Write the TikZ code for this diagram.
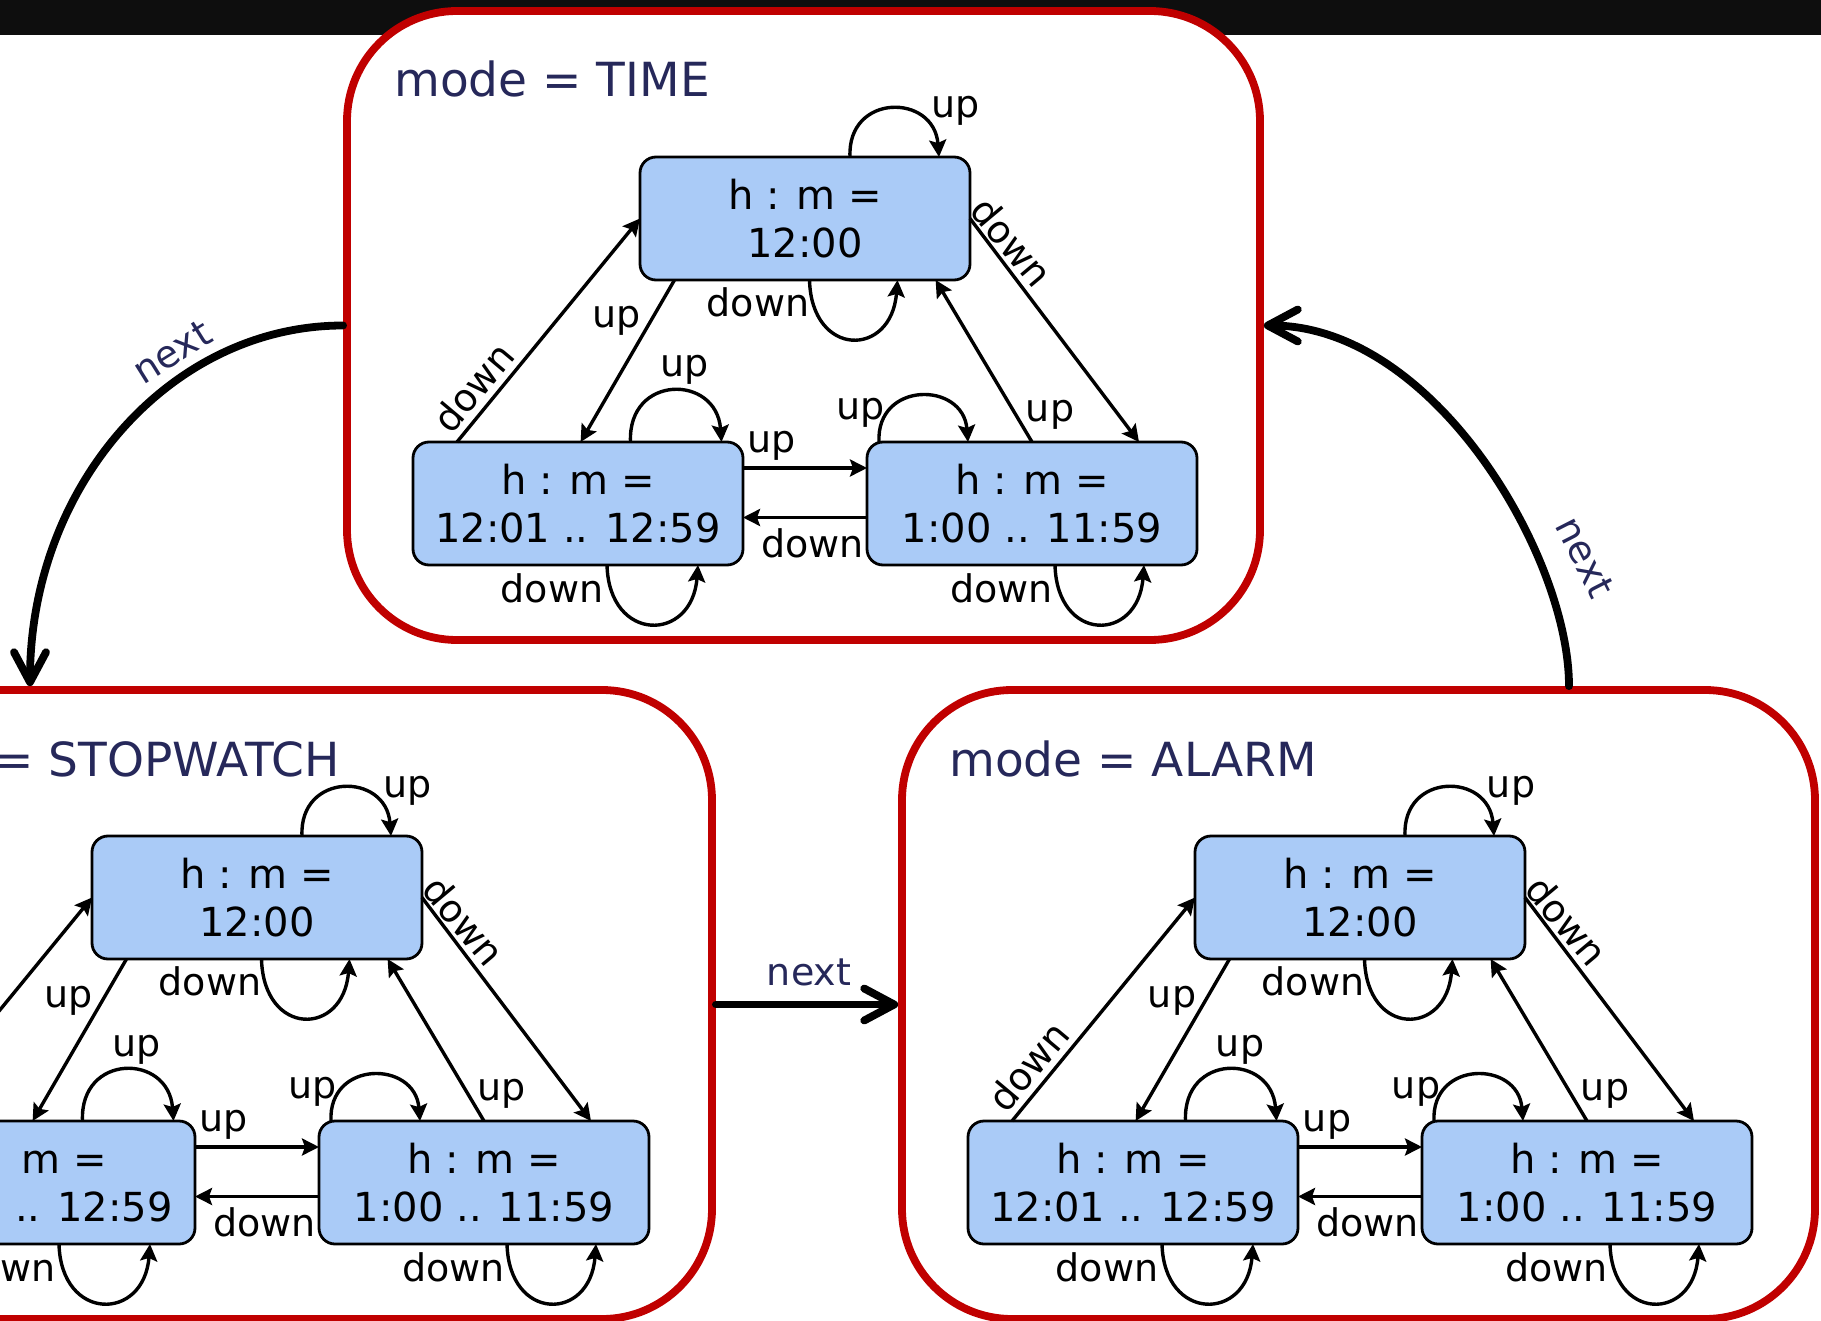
\documentclass[tikz,border=0pt]{standalone}
\usepackage{fontspec}
\setmainfont{DejaVu Sans}
\usetikzlibrary{arrows.meta}
\definecolor{boxred}{RGB}{192,0,0}
\definecolor{stfill}{RGB}{170,203,247}
\definecolor{navy}{RGB}{38,40,90}
\definecolor{barblack}{RGB}{14,14,14}
\tikzset{
  stbox/.style={draw=black, line width=1.4pt, fill=stfill, rounded corners=8pt,
    minimum width=165pt, minimum height=61.5pt, align=center, inner sep=0pt, outer sep=0pt,
    font=\fontsize{20}{24}\selectfont},
  lbl/.style={font=\fontsize{19}{22}\selectfont, inner sep=0pt, anchor=base},
  rlbl/.style={font=\fontsize{19}{22}\selectfont, inner sep=0pt, anchor=center},
  tr/.style={line width=1.7pt, -{Stealth[length=8.5pt,width=8.5pt,inset=1.5pt]}},
  modebox/.style={draw=boxred, line width=3.9pt, fill=white, rounded corners=55pt,
    minimum width=456.5pt, minimum height=314.5pt, inner sep=0pt},
  modetitle/.style={text=navy, font=\fontsize{23.5}{28}\selectfont, inner sep=0pt, anchor=base west},
  nextarrow/.style={line width=3.9pt, line cap=round,
    -{Straight Barb[length=15pt,width=16pt,round]}},
  nextlbl/.style={text=navy, font=\fontsize{19}{22}\selectfont, inner sep=0pt},
}
\newcommand{\modecontent}[4]{%
\begin{scope}[shift={(#2,#3)}]
  \node[modetitle] (#1title) at (47,86) {mode = #4};
  \node[stbox] (#1T) at (458,207.5) {h : m =\\12:00};
  \node[stbox] (#1L) at (231,492.5) {h : m =\\12:01 .. 12:59};
  \node[stbox] (#1R) at (685,492.5) {h : m =\\1:00 .. 11:59};
  % self loops
  \coordinate (#1tua) at ([xshift=22.5pt]#1T.north);
  \coordinate (#1tub) at ([xshift=67pt]#1T.north);
  \draw[tr] (#1tua) .. controls ([xshift=-1.5pt,yshift=32pt]#1tua) and ([xshift=-2.5pt,yshift=32pt]#1tub) .. (#1tub)
    node[lbl] (#1tul) at (609,107) {up};
  \coordinate (#1tda) at ([xshift=2.25pt]#1T.south);
  \coordinate (#1tdb) at ([xshift=46.25pt]#1T.south);
  \draw[tr] (#1tda) .. controls ([xshift=1pt,yshift=-39pt]#1tda) and ([xshift=-3pt,yshift=-39pt]#1tdb) .. (#1tdb)
    node[lbl] (#1tdl) at (411,305) {down};
  \coordinate (#1lua) at ([xshift=26.25pt]#1L.north);
  \coordinate (#1lub) at ([xshift=71.75pt]#1L.north);
  \draw[tr] (#1lua) .. controls ([xshift=-1.5pt,yshift=34pt]#1lua) and ([xshift=-2.5pt,yshift=34pt]#1lub) .. (#1lub)
    node[lbl] (#1lul) at (338,366) {up};
  \coordinate (#1rua) at ([xshift=-76.5pt]#1R.north);
  \coordinate (#1rub) at ([xshift=-32pt]#1R.north);
  \draw[tr] (#1rua) .. controls ([xshift=-1.5pt,yshift=30.5pt]#1rua) and ([xshift=-2.5pt,yshift=30.5pt]#1rub) .. (#1rub)
    node[lbl] (#1rul) at (514,408) {up};
  \coordinate (#1lda) at ([xshift=14.5pt]#1L.south);
  \coordinate (#1ldb) at ([xshift=60pt]#1L.south);
  \draw[tr] (#1lda) .. controls ([xshift=1pt,yshift=-39pt]#1lda) and ([xshift=-3pt,yshift=-39pt]#1ldb) .. (#1ldb)
    node[lbl] (#1ldl) at (205,591) {down};
  \coordinate (#1rda) at ([xshift=11.5pt]#1R.south);
  \coordinate (#1rdb) at ([xshift=56pt]#1R.south);
  \draw[tr] (#1rda) .. controls ([xshift=1pt,yshift=-39pt]#1rda) and ([xshift=-3pt,yshift=-39pt]#1rdb) .. (#1rdb)
    node[lbl] (#1rdl) at (654.5,591) {down};
  % transitions between states
  \draw[tr] ([xshift=-60.5pt]#1L.north) -- (#1T.west)
    node[rlbl, rotate=50] (#1ltl) at (126.5,376) {down};
  \draw[tr] ([xshift=-65.25pt]#1T.south) -- ([xshift=1.3pt]#1L.north)
    node[lbl] (#1tll) at (270,317) {up};
  \draw[tr] ([yshift=17.75pt]#1L.east) -- ([yshift=17.75pt]#1R.west)
    node[lbl] (#1lrl) at (425,441) {up};
  \draw[tr] ([yshift=-7pt]#1R.west) -- ([yshift=-7pt]#1L.east)
    node[lbl] (#1rll) at (465.5,546.6) {down};
  \draw[tr] (#1R.north) -- ([xshift=65.3pt]#1T.south)
    node[lbl] (#1rtl) at (703,410) {up};
  \draw[tr] (#1T.east) -- ([xshift=53.5pt]#1R.north)
    node[rlbl, rotate=-50] (#1trl) at (665,231) {down};
\end{scope}}
\begin{document}
\begin{tikzpicture}[x=0.5pt,y=-0.5pt]
\useasboundingbox (0,0) rectangle (1821,1321);
\fill[barblack] (0,0) rectangle (1821,35);
\node[modebox] (TIMEbox) at (803.5,325.5) {};
\node[modebox] (SWbox) at (255.5,1004.5) {};
\node[modebox] (ALbox) at (1358.5,1004.5) {};
\modecontent{t}{347}{11}{TIME}
\modecontent{s}{-201}{690}{STOPWATCH}
\modecontent{a}{902}{690}{ALARM}
\coordinate (swin) at ([xshift=-112.75pt]SWbox.north);
\coordinate (alout) at ([xshift=105.25pt]ALbox.north);
\draw[nextarrow] (TIMEbox.west) .. controls ([xshift=-86.5pt]TIMEbox.west) and ([yshift=100pt]swin) .. (swin)
  node[nextlbl, rotate=32] (nextA) at (172,352) {next};
\draw[nextarrow] (alout) .. controls ([yshift=65pt]alout) and ([xshift=85pt]TIMEbox.east) .. (TIMEbox.east)
  node[nextlbl, rotate=-63] (nextB) at (1585,557) {next};
\draw[nextarrow] (SWbox.east) -- (ALbox.west)
  node[nextlbl, anchor=base] (nextC) at (809,985) {next};
\end{tikzpicture}
\end{document}
